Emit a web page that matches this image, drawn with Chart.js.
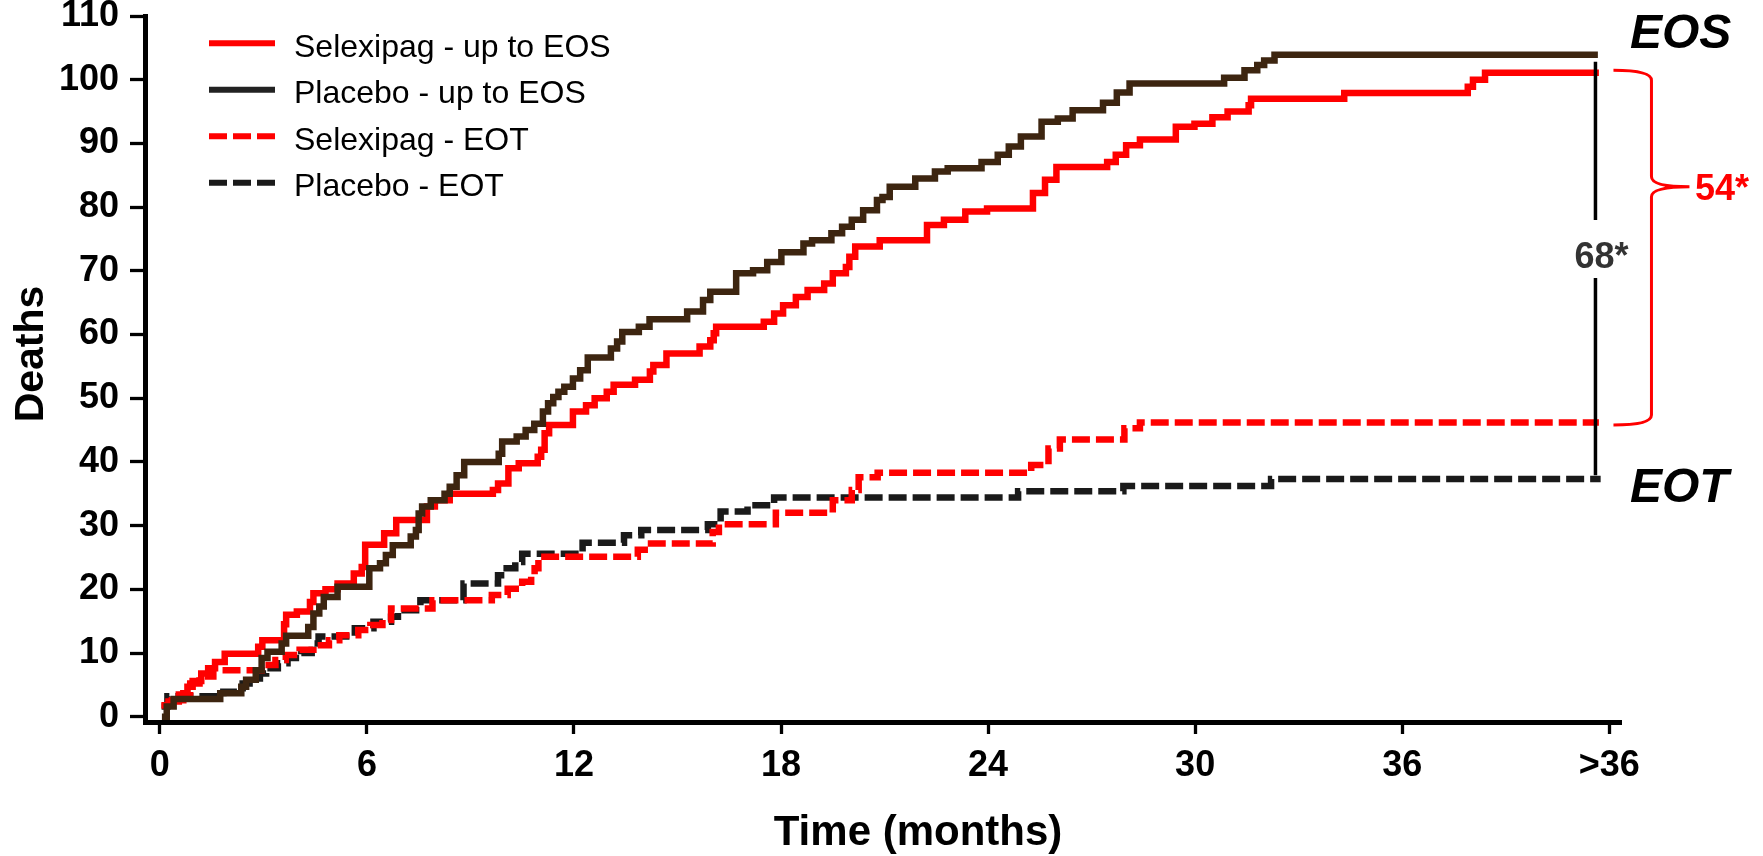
<!DOCTYPE html>
<html>
<head>
<meta charset="utf-8">
<title>Deaths up to EOS and EOT</title>
<script src="https://cdn.jsdelivr.net/npm/chart.js"></script>
<style>
  html, body { margin: 0; padding: 0; background: #fff; }
  #wrap { width: 1763px; height: 856px; position: relative; }
</style>
</head>
<body>
<div id="wrap"><canvas id="kmChart"></canvas></div>
<script>
// --- Data ---
const xTickValues = [0, 6, 12, 18, 24, 30, 36, 42];
const xTickLabels = ['0', '6', '12', '18', '24', '30', '36', '>36'];
const yTickValues = [0, 10, 20, 30, 40, 50, 60, 70, 80, 90, 100, 110];

const seriesLabels = ['Selexipag - up to EOS', 'Placebo - up to EOS', 'Selexipag - EOT', 'Placebo - EOT'];

// Selexipag - up to EOS
const selexEosT = [0.05, 0.25, 0.55, 0.8, 0.95, 1.2, 1.4, 1.6, 1.88, 2.85,
  2.97, 3.6, 3.66, 3.97, 4.35, 4.45, 4.8, 5.15, 5.62, 5.85,
  5.95, 6.5, 6.85, 7.74, 7.97, 8.4, 9.65, 9.8, 10.1, 10.4,
  10.95, 11.05, 11.15, 11.28, 11.97, 12.35, 12.6, 12.95, 13.15, 13.77,
  14.2, 14.3, 14.68, 15.64, 15.95, 16.05, 16.12, 17.5, 17.8, 18.06,
  18.43, 18.77, 19.25, 19.5, 19.88, 19.98, 20.15, 20.86, 22.23, 22.72,
  23.34, 23.97, 25.3, 25.65, 25.98, 27.45, 27.7, 28.0, 28.4, 29.44,
  29.98, 30.5, 30.94, 31.55, 31.62, 34.32, 37.9, 38.05, 38.4, 41.7];
const selexEosD = [1.8, 2.4, 3.5, 4.7, 5.6, 6.8, 7.6, 8.6, 9.9, 11.0,
  12.0, 14.5, 16.0, 16.5, 18.0, 19.4, 20.0, 20.9, 22.5, 23.5,
  27.0, 28.8, 30.9, 33.0, 34.0, 35.0, 35.6, 36.6, 39.0, 39.8,
  40.8, 41.9, 44.5, 45.8, 47.9, 48.9, 50.0, 51.0, 52.1, 52.9,
  54.2, 55.2, 57.0, 58.1, 59.1, 60.2, 61.2, 62.0, 63.3, 64.6,
  65.9, 67.0, 68.0, 69.6, 70.6, 72.2, 73.8, 74.8, 77.2, 78.0,
  79.3, 79.8, 82.2, 84.3, 86.3, 87.1, 88.2, 89.7, 90.6, 92.6,
  93.1, 94.1, 95.0, 96.0, 97.0, 97.9, 98.9, 100.0, 101.1, 101.1];

// Placebo - up to EOS
const placEosT = [0.06, 0.2, 0.4, 1.75, 2.36, 2.5, 2.78, 2.95, 3.12, 3.53,
  3.66, 4.3, 4.45, 4.62, 4.75, 5.15, 6.07, 6.38, 6.55, 6.75,
  7.27, 7.42, 7.5, 7.6, 7.85, 8.25, 8.4, 8.6, 8.82, 9.82,
  9.92, 10.34, 10.6, 10.85, 11.1, 11.25, 11.4, 11.55, 11.72, 11.97,
  12.18, 12.4, 13.07, 13.25, 13.4, 13.88, 14.19, 15.28, 15.74, 15.95,
  16.7, 17.19, 17.6, 18.01, 18.65, 18.9, 19.46, 19.77, 20.05, 20.38,
  20.78, 20.94, 21.15, 21.89, 22.46, 22.83, 23.81, 24.28, 24.6, 24.95,
  25.55, 26.02, 26.45, 27.33, 27.73, 28.1, 30.84, 31.43, 31.8, 32.0,
  32.3, 41.67];
const placEosD = [0, 1.6, 2.8, 3.7, 4.7, 5.8, 7.3, 9.2, 10.2, 11.5,
  12.7, 14.1, 16.2, 17.3, 18.8, 20.4, 23.3, 24.1, 25.4, 26.9,
  28.3, 29.3, 31.9, 33.0, 34.0, 35.0, 36.1, 37.9, 40.0, 41.3,
  43.2, 44.0, 45.0, 46.0, 47.9, 49.2, 50.2, 51.0, 51.8, 53.1,
  54.4, 56.4, 57.8, 58.9, 60.4, 61.2, 62.4, 63.6, 65.4, 66.7,
  69.6, 70.1, 71.4, 72.9, 74.3, 74.8, 75.9, 76.9, 78.0, 79.5,
  81.1, 81.6, 83.2, 84.5, 85.6, 86.1, 87.1, 88.2, 89.5, 91.1,
  93.4, 93.9, 95.2, 96.4, 98.0, 99.4, 100.3, 101.5, 102.3, 103.0,
  103.9, 103.9];

// Selexipag - EOT
const selexEotT = [0.05, 0.35, 0.68, 0.88, 1.15, 1.55, 2.95, 3.35, 3.65, 4.05,
  4.45, 4.9, 5.2, 5.75, 6.1, 6.45, 6.7, 7.9, 9.62, 10.08,
  10.5, 10.76, 10.86, 10.97, 13.85, 14.05, 16.02, 16.2, 17.85, 19.5,
  20.05, 20.25, 20.8, 25.25, 25.75, 26.08, 27.95, 28.4, 41.7];
const selexEotD = [1.8, 2.6, 3.7, 5.2, 6.3, 7.3, 8.1, 8.9, 9.7, 10.5,
  11.2, 12.0, 12.8, 13.6, 14.4, 15.2, 17.0, 18.3, 19.1, 20.1,
  21.2, 22.2, 23.3, 25.1, 26.2, 27.2, 29.0, 30.2, 32.0, 34.0,
  35.6, 37.6, 38.3, 39.5, 42.1, 43.5, 45.3, 46.2, 46.2];

// Placebo - EOT
const placEotT = [0.05, 0.22, 1.84, 2.4, 2.6, 2.9, 3.08, 3.42, 3.7, 4.1,
  4.4, 4.6, 5.65, 6.19, 6.7, 6.9, 7.55, 8.8, 9.8, 10.05,
  10.3, 10.5, 12.25, 13.45, 13.95, 15.88, 16.25, 17.03, 17.8, 24.87,
  27.92, 32.2, 41.75];
const placEotD = [1.6, 3.2, 3.9, 5.2, 6.0, 6.8, 7.6, 8.4, 9.2, 10.0,
  11.5, 12.6, 13.9, 14.9, 15.7, 16.7, 18.3, 20.9, 22.2, 23.3,
  24.3, 25.6, 27.3, 28.5, 29.3, 30.2, 32.2, 33.2, 34.4, 35.4,
  36.2, 37.3, 37.3];

// annotation values (months / deaths)
const markT = 41.6;          // vertical difference bar
const placDiffLabel = '68*';
const selexDiffLabel = '54*';

const FONT = '"Liberation Sans", Arial, Helvetica, sans-serif';
const RED = '#ff0000';
const BROWN = '#3d2510';
const DARK = '#1a1a1a';
const LINE_W = 6.5;

function toPoints(ts, ds) {
  return ts.map((t, i) => ({ x: t, y: ds[i] }));
}

function stepSeries(label, ts, ds, color, extra) {
  return Object.assign({
    label: label,
    data: toPoints(ts, ds),
    borderColor: color,
    backgroundColor: color,
    borderWidth: LINE_W,
    stepped: 'before',
    fill: false,
    pointRadius: 0,
    pointHoverRadius: 0
  }, extra || {});
}

// --- legend, labels, brace and difference bar ---
const overlayPlugin = {
  id: 'overlay',
  afterDraw(chart) {
    const ctx = chart.ctx;
    const xs = chart.scales.x;
    const ys = chart.scales.y;
    ctx.save();

    // legend (top-left, inside the plot)
    const rows = [43.3, 89.8, 136.3, 182.8];
    chart.data.datasets.forEach((ds, i) => {
      const y = rows[i];
      ctx.beginPath();
      ctx.lineWidth = 6;
      ctx.strokeStyle = ds.legendColor || ds.borderColor;
      ctx.setLineDash(ds.borderDash || []);
      ctx.moveTo(209, y);
      ctx.lineTo(275, y);
      ctx.stroke();
      ctx.setLineDash([]);
      ctx.fillStyle = '#000';
      ctx.font = '32px ' + FONT;
      ctx.textAlign = 'left';
      ctx.textBaseline = 'alphabetic';
      ctx.fillText(ds.label, 294, y + 13.4);
    });

    // axis titles
    ctx.fillStyle = '#000';
    ctx.font = 'bold 42px ' + FONT;
    ctx.textAlign = 'center';
    ctx.fillText('Time (months)', 918, 845);
    ctx.save();
    ctx.translate(43.3, 354);
    ctx.rotate(-Math.PI / 2);
    ctx.font = 'bold 41px ' + FONT;
    ctx.fillText('Deaths', 0, 0);
    ctx.restore();

    // EOS / EOT tags
    ctx.font = 'italic bold 48px ' + FONT;
    ctx.textAlign = 'left';
    ctx.fillText('EOS', 1630, 48);
    ctx.fillText('EOT', 1630, 501.7);

    // vertical bar between placebo curves, split by its label
    const bx = xs.getPixelForValue(markT);
    const topY = ys.getPixelForValue(102.8);
    const botY = ys.getPixelForValue(37.9);
    ctx.strokeStyle = '#000';
    ctx.lineWidth = 3.5;
    ctx.beginPath();
    ctx.moveTo(bx, topY);
    ctx.lineTo(bx, 220);
    ctx.moveTo(bx, 278);
    ctx.lineTo(bx, botY);
    ctx.stroke();
    ctx.fillStyle = '#333';
    ctx.font = 'bold 36px ' + FONT;
    ctx.textAlign = 'center';
    ctx.fillText(placDiffLabel, bx + 6, 268);

    // curly brace between selexipag curves
    const b0 = ys.getPixelForValue(101.5);
    const b1 = ys.getPixelForValue(45.8);
    const bm = ys.getPixelForValue(83.2);
    const x0 = bx + 18, xv = bx + 56, xt = bx + 94;
    ctx.strokeStyle = RED;
    ctx.lineWidth = 3;
    ctx.beginPath();
    ctx.moveTo(x0, b0);
    ctx.quadraticCurveTo(xv, b0, xv, b0 + 10);
    ctx.lineTo(xv, bm - 10);
    ctx.quadraticCurveTo(xv, bm, xt, bm);
    ctx.moveTo(xt, bm);
    ctx.quadraticCurveTo(xv, bm, xv, bm + 10);
    ctx.lineTo(xv, b1 - 10);
    ctx.quadraticCurveTo(xv, b1, x0, b1);
    ctx.stroke();
    ctx.fillStyle = RED;
    ctx.font = 'bold 36px ' + FONT;
    ctx.textAlign = 'left';
    ctx.fillText(selexDiffLabel, 1695, 200);

    ctx.restore();
  }
};

const ctx = document.getElementById('kmChart').getContext('2d');
const chart = new Chart(ctx, {
  type: 'line',
  data: {
    datasets: [
      stepSeries(seriesLabels[0], selexEosT, selexEosD, RED, { order: 1 }),
      stepSeries(seriesLabels[1], placEosT, placEosD, BROWN, { legendColor: '#222', order: 0 }),
      stepSeries(seriesLabels[2], selexEotT, selexEotD, RED, { borderDash: [18, 6], order: 2 }),
      stepSeries(seriesLabels[3], placEotT, placEotD, DARK, { borderDash: [18, 6], order: 3 })
    ]
  },
  options: {
    responsive: true,
    maintainAspectRatio: false,
    animation: false,
    layout: { padding: { top: 16, right: 142, bottom: 0, left: 0 } },
    plugins: {
      legend: { display: false },
      tooltip: { enabled: false }
    },
    scales: {
      x: {
        type: 'linear',
        min: -0.43,
        max: 42.34,
        afterBuildTicks: s => { s.ticks = xTickValues.map(v => ({ value: v })); },
        afterFit: s => { s.height = 134; s.paddingLeft = 0; s.paddingRight = 0; },
        ticks: {
          autoSkip: false,
          maxRotation: 0,
          padding: 10,
          color: '#000',
          font: { family: FONT, size: 36, weight: 'bold' },
          callback: v => xTickLabels[xTickValues.indexOf(v)]
        },
        grid: { drawOnChartArea: false, drawTicks: true, tickLength: 12, tickWidth: 3.3, tickColor: '#000' },
        border: { display: true, color: '#000', width: 5 }
      },
      y: {
        min: -0.83,
        max: 110,
        afterBuildTicks: s => { s.ticks = yTickValues.map(v => ({ value: v })); },
        afterFit: s => { s.width = 145; s.paddingTop = 0; s.paddingBottom = 0; },
        ticks: {
          padding: 11,
          color: '#000',
          font: { family: FONT, size: 36, weight: 'bold' }
        },
        grid: { drawOnChartArea: false, drawTicks: true, tickLength: 15, tickWidth: 3.3, tickColor: '#000' },
        border: { display: true, color: '#000', width: 5 }
      }
    }
  },
  plugins: [overlayPlugin]
});
</script>
</body>
</html>
